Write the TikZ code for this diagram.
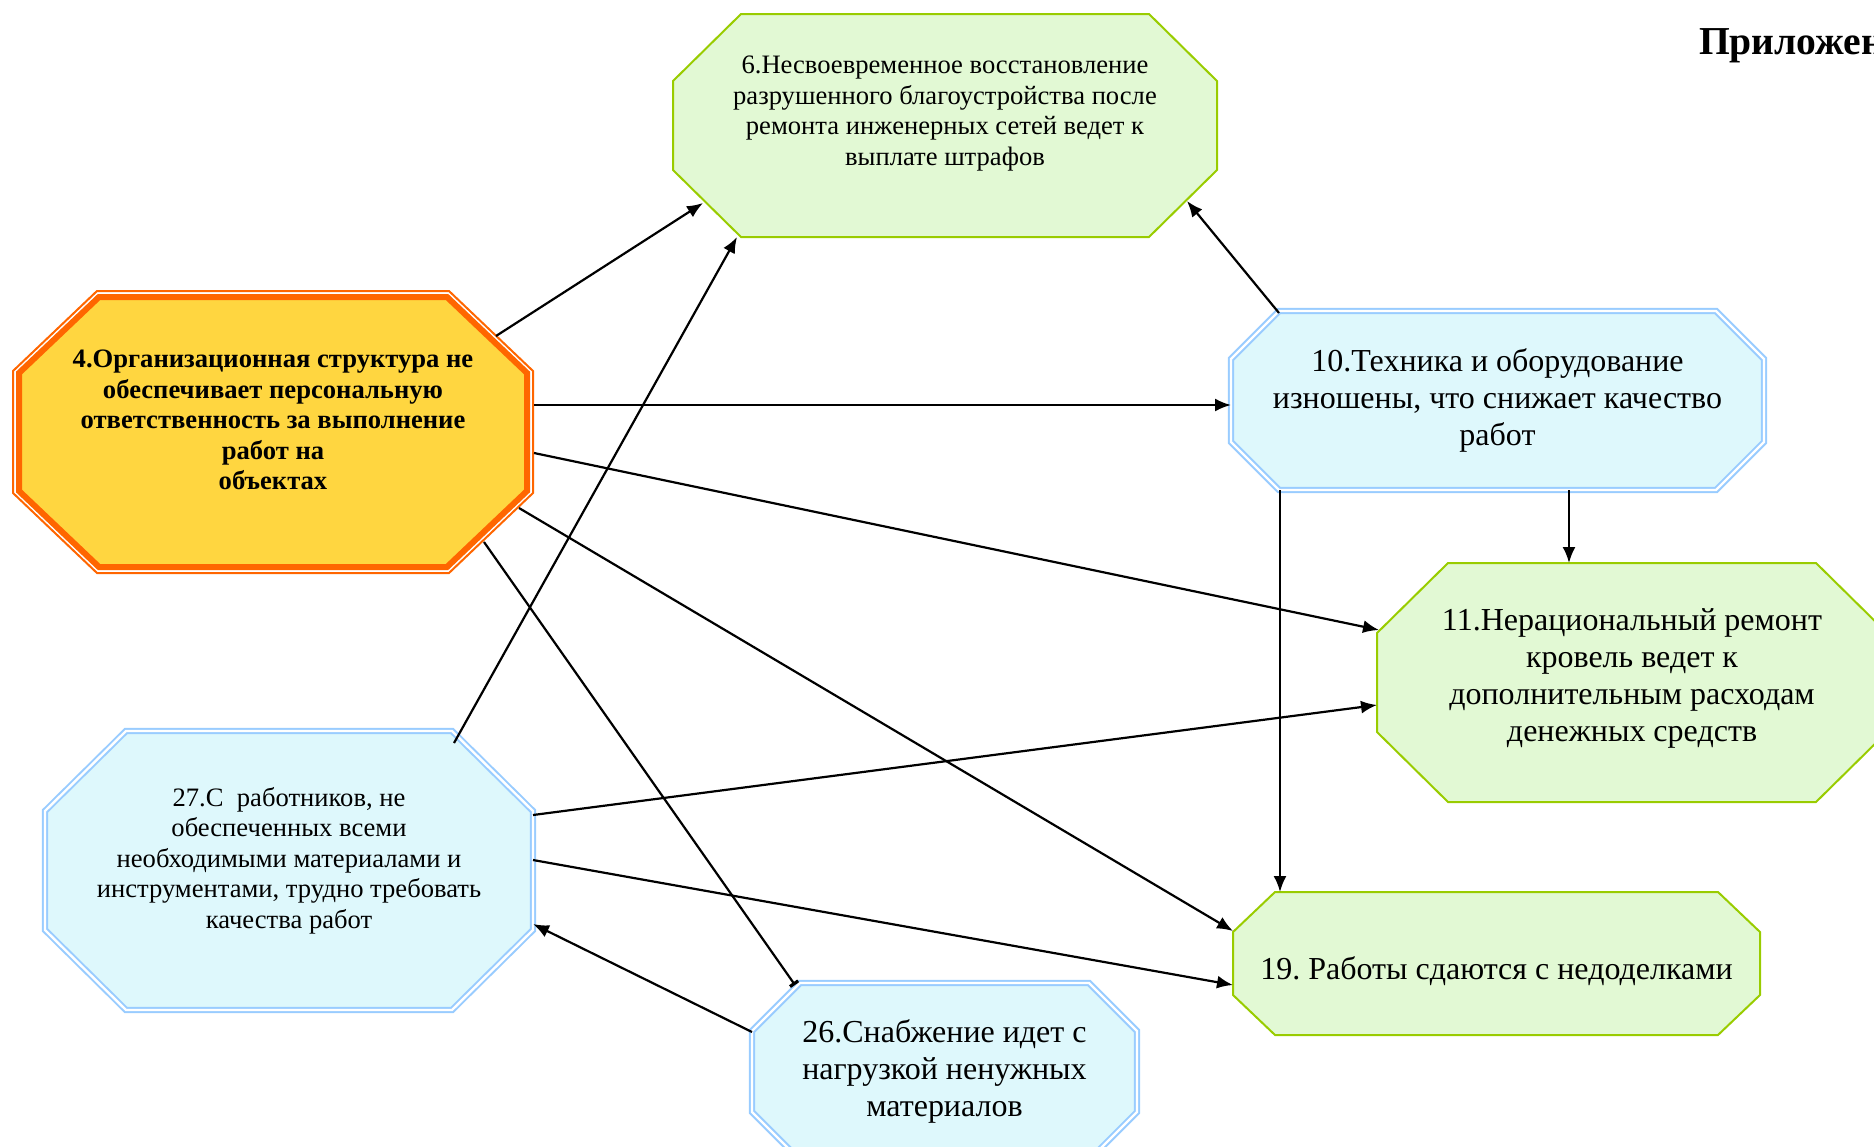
\documentclass[tikz,border=0pt]{standalone}
\usepackage{fontspec}
\setmainfont{Liberation Serif}
\frenchspacing
\usetikzlibrary{calc,backgrounds,arrows.meta}
\definecolor{grfill}{RGB}{226,249,212}
\definecolor{grline}{RGB}{153,204,0}
\definecolor{blfill}{RGB}{222,248,252}
\definecolor{blline}{RGB}{153,204,255}
\definecolor{orline}{RGB}{255,102,0}
\definecolor{yefill}{RGB}{255,214,64}
% #1 style, #2 node, #3 chamfer x, #4 chamfer y, #5 inset (pixel units, y downwards)
\newcommand\octpath[5]{%
  \path[#1] ($(#2.north west)+(#5+#3,#5)$) -- ($(#2.north east)+(-#5-#3,#5)$)
    -- ($(#2.north east)+(-#5,#5+#4)$) -- ($(#2.south east)+(-#5,-#5-#4)$)
    -- ($(#2.south east)+(-#5-#3,-#5)$) -- ($(#2.south west)+(#5+#3,-#5)$)
    -- ($(#2.south west)+(#5,-#5-#4)$) -- ($(#2.north west)+(#5,#5+#4)$) -- cycle;}
\tikzset{
  box/.style 2 args={rectangle, inner sep=0pt, outer sep=0pt,
    minimum width=#1*0.5pt, minimum height=#2*0.5pt},
  txt/.style={inner sep=0pt, align=center},
  smalltxt/.style={txt, font=\fontsize{13.3}{15.25}\selectfont},
  boldtxt/.style={txt, font=\fontsize{13.3}{15.25}\selectfont\bfseries},
  bigtxt/.style={txt, font=\fontsize{16}{18.5}\selectfont},
  greenoct/.style={fill=grfill, draw=grline, line width=1pt},
  blueoct/.style={fill=blfill, draw=blline, line width=1pt, double=white, double distance=1.2pt},
  orouter/.style={fill=white, draw=orline, line width=1pt},
  orinner/.style={fill=yefill, draw=orline, line width=3pt},
  arr/.style={line width=1.1pt, -{Latex[length=8pt,width=6.5pt]}},
  barr/.style={line width=1.1pt, -{Bar[width=5pt,line width=1.6pt]}},
}
\begin{document}
\begin{tikzpicture}[x=0.5pt, y=-0.5pt]
\useasboundingbox (0,0) rectangle (1874,1146);

% box geometry
\node[box={544}{223}] (n6) at (945,125.5) {};
\node[box={522}{284}] (n4) at (273,432) {};
\node[box={533}{179}] (n10) at (1497.5,400.5) {};
\node[box={510}{239}] (n11) at (1632,682.5) {};
\node[box={527}{143}] (n19) at (1496.5,963.5) {};
\node[box={385}{177}] (n26) at (944.5,1071.5) {};
\node[box={488}{279}] (n27) at (289,870.5) {};

% texts
\node[smalltxt] (t6) at ($(n6.center)+(0,-12)$)
  {6.Несвоевременное восстановление\\ разрушенного благоустройства после\\ ремонта инженерных сетей ведет к\\ выплате штрафов};
\node[boldtxt] (t4) at ($(n4.center)+(0,-12)$)
  {4.Организационная структура не\\ обеспечивает персональную\\ ответственность за выполнение\\ работ на\\ объектах};
\node[bigtxt] (t10) at ($(n10.center)+(0,0)$)
  {10.Техника и оборудование\\ изношены, что снижает качество\\ работ};
\node[bigtxt] (t11) at ($(n11.center)+(0,-4)$)
  {11.Нерациональный ремонт\\ кровель ведет к\\ дополнительным расходам\\ денежных средств};
\node[bigtxt] (t19) at ($(n19.center)+(0,8)$)
  {19. Работы сдаются с недоделками};
\node[bigtxt] (t26) at ($(n26.center)+(0,0)$)
  {26.Снабжение идет с\\ нагрузкой ненужных\\ материалов};
\node[smalltxt] (t27) at ($(n27.center)+(0,-10)$)
  {27.С\ \ работников, не\\ обеспеченных всеми\\ необходимыми материалами и\\ инструментами, трудно требовать\\ качества работ};
\node[anchor=base west, font=\fontsize{19.8}{24}\selectfont\bfseries] (app) at (1692,54) {Приложение};

\begin{scope}[on background layer]
  \octpath{greenoct}{n6}{68}{67}{0}
  \octpath{greenoct}{n11}{71}{70}{0}
  \octpath{greenoct}{n19}{42}{40}{0}
  \octpath{blueoct}{n10}{48}{48}{0}
  \octpath{blueoct}{n26}{48}{48}{0}
  \octpath{blueoct}{n27}{81}{80}{0}
  \octpath{orouter}{n4}{84}{80}{1}
  \octpath{orinner}{n4}{80}{76}{7}
\end{scope}

\draw[arr] ($(n4.north east)+(-38,46)$) -- ($(n6.south west)+(30,-34)$);
\draw[arr] ($(n4.north east)+(0,115)$) -- ($(n10.north west)+(0,94)$);
\draw[arr] ($(n4.north east)+(0,163)$) -- ($(n11.north west)+(2,67)$);
\draw[arr] ($(n4.south east)+(-15,-66)$) -- ($(n19.north west)+(0,39)$);
\draw[barr] ($(n4.south east)+(-50,-32)$) -- ($(n26.north west)+(43,2)$);
\draw[arr] ($(n27.north east)+(-79,12)$) -- ($(n6.south west)+(64,0)$);
\draw[arr] ($(n10.north west)+(48,2)$) -- ($(n6.south east)+(-30,-36)$);
\draw[arr] ($(n10.south west)+(338,0)$) -- ($(n11.north west)+(192,0)$);
\draw[arr] ($(n10.south west)+(49,0)$) -- ($(n19.north west)+(47,0)$);
\draw[arr] ($(n27.north east)+(0,84)$) -- ($(n11.north west)+(0,142)$);
\draw[arr] ($(n27.north east)+(0,129)$) -- ($(n19.north west)+(0,93)$);
\draw[arr] ($(n26.north west)+(0,49)$) -- ($(n27.south east)+(0,-86)$);
\end{tikzpicture}
\end{document}
